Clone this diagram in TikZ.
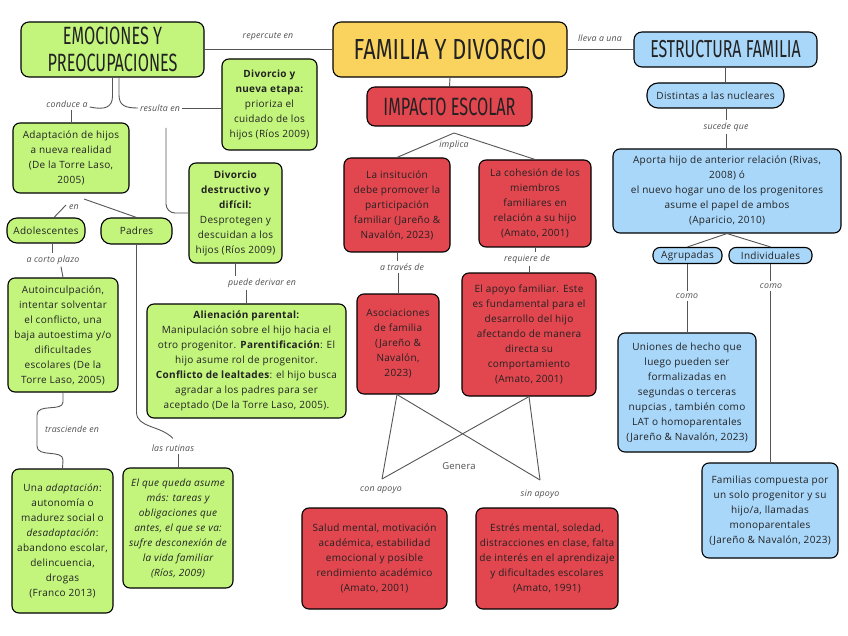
\documentclass[tikz,border=0pt]{standalone}
\usepackage{fontspec}
\setmainfont{Open Sans}
\newfontfamily\bodyfont[LetterSpace=3]{Open Sans}
\newfontfamily\lblfont[LetterSpace=2]{Open Sans}
\newfontfamily\titlefont[FakeStretch=0.65]{Fira Sans}
\newfontfamily\titlefontw[FakeStretch=0.75]{Fira Sans}
\usetikzlibrary{calc}
\definecolor{gfill}{HTML}{C3F57D}
\definecolor{yfill}{HTML}{FAD35E}
\definecolor{rfill}{HTML}{E2464F}
\definecolor{bfill}{HTML}{A9D7FA}
\definecolor{txt}{HTML}{222222}
\definecolor{lblc}{HTML}{505050}
\definecolor{linec}{HTML}{555555}
\begin{document}
\begin{tikzpicture}[x=1pt,y=-1pt,
  box/.style={draw=black, line width=1.1pt, rounded corners=7pt, align=center, inner sep=0pt, text=txt, font=\bodyfont\fontsize{10}{15}\selectfont},
  gbox/.style={box, fill=gfill},
  rbox/.style={box, fill=rfill},
  bbox/.style={box, fill=bfill},
  ttl/.style={draw=black, line width=1.1pt, rounded corners=8pt, align=center, inner sep=0pt, text=txt},
  lbl/.style={font=\lblfont\fontsize{8.8}{10}\selectfont\itshape, text=lblc, inner sep=2pt},
  conn/.style={draw=linec, line width=0.9pt}
]
\useasboundingbox (0,0) rectangle (848,636);
\fill[white] (0,0) rectangle (848,636);

% ---------- titles ----------
\node[ttl, fill=gfill, minimum width=183pt, minimum height=55pt, font=\titlefont\fontsize{25}{27}\selectfont] (emo) at (112.5,49.5) {EMOCIONES Y\\PREOCUPACIONES};
\node[ttl, fill=yfill, minimum width=234pt, minimum height=55pt, font=\titlefontw\fontsize{29}{30}\selectfont] (fam) at (450,49.5) {FAMILIA Y DIVORCIO};
\node[ttl, fill=rfill, minimum width=165pt, minimum height=39pt, font=\titlefont\fontsize{25}{27}\selectfont] (imp) at (449.5,106.5) {IMPACTO ESCOLAR};
\node[ttl, fill=bfill, minimum width=183pt, minimum height=35pt, font=\titlefont\fontsize{24.5}{26}\selectfont] (est) at (725.5,49.5) {ESTRUCTURA FAMILIA};

% ---------- blue branch ----------
\node[bbox, rounded corners=11pt, minimum width=137pt, minimum height=25pt] (dist) at (715.5,95.5) {Distintas a las nucleares};
\node[bbox, minimum width=228pt, minimum height=84pt] (aporta) at (727,191) {Aporta hijo de anterior relación (Rivas,\\2008) ó\\el nuevo hogar uno de los progenitores\\asume el papel de ambos\\(Aparicio, 2010)};
\node[bbox, rounded corners=7pt, minimum width=69pt, minimum height=16pt] (agr) at (687.5,255.5) {Agrupadas};
\node[bbox, rounded corners=7pt, minimum width=83pt, minimum height=16pt] (ind) at (770.5,255.5) {Individuales};
\node[bbox, minimum width=138pt, minimum height=119pt] (union) at (687,392.5) {Uniones de hecho que\\luego pueden ser\\formalizadas en\\segundas o terceras\\nupcias , también como\\LAT o homoparentales\\(Jareño \& Navalón, 2023)};
\node[bbox, minimum width=136pt, minimum height=95pt] (fams) at (770,510.5) {Familias compuesta por\\un solo progenitor y su\\hijo/a, llamadas\\monoparentales\\(Jareño \& Navalón, 2023)};

% ---------- red branch ----------
\node[rbox, minimum width=106pt, minimum height=94pt] (ins) at (397,205) {La insitución\\debe promover la\\participación\\familiar (Jareño \&\\Navalón, 2023)};
\node[rbox, minimum width=112pt, minimum height=87pt] (coh) at (535,203.5) {La cohesión de los\\miembros\\familiares en\\relación a su hijo\\(Amato, 2001)};
\node[rbox, minimum width=82pt, minimum height=100pt] (aso) at (398,344) {Asociaciones\\de familia\\(Jareño \&\\Navalón,\\2023)};
\node[rbox, minimum width=134pt, minimum height=123pt] (apoyo) at (529,334.5) {El apoyo familiar. Este\\es fundamental para el\\desarrollo del hijo\\afectando de manera\\directa su\\comportamiento\\(Amato, 2001)};
\node[rbox, minimum width=145pt, minimum height=101pt] (salud) at (374.5,558.5) {Salud mental, motivación\\académica, estabilidad\\emocional y posible\\rendimiento académico\\(Amato, 2001)};
\node[rbox, minimum width=142pt, minimum height=101pt] (estres) at (547,558.5) {Estrés mental, soledad,\\distracciones en clase, falta\\de interés en el aprendizaje\\y dificultades escolares\\(Amato, 1991)};

% ---------- green branch ----------
\node[gbox, minimum width=95pt, minimum height=91pt] (divn) at (269.5,104.5) {\textbf{Divorcio y}\\\textbf{nueva etapa:}\\prioriza el\\cuidado de los\\hijos (Ríos 2009)};
\node[gbox, minimum width=116pt, minimum height=70pt] (adap) at (71,158) {Adaptación de hijos\\a nueva realidad\\(De la Torre Laso,\\2005)};
\node[gbox, rounded corners=10pt, minimum width=78pt, minimum height=25pt] (adol) at (46,230.5) {Adolescentes};
\node[gbox, rounded corners=10pt, minimum width=71pt, minimum height=26pt] (padres) at (136.5,231) {Padres};
\node[gbox, minimum width=93pt, minimum height=100pt] (divd) at (235.5,213) {\textbf{Divorcio}\\\textbf{destructivo y}\\\textbf{difícil:}\\Desprotegen y\\descuidan a los\\hijos (Ríos 2009)};
\node[gbox, minimum width=199pt, minimum height=114pt] (alien) at (246.5,361) {\textbf{Alienación parental:}\\Manipulación sobre el hijo hacia el\\otro progenitor. \textbf{Parentificación}: El\\hijo asume rol de progenitor.\\\textbf{Conflicto de lealtades}: el hijo busca\\agradar a los padres para ser\\aceptado (De la Torre Laso, 2005).};
\node[gbox, minimum width=110pt, minimum height=114pt] (auto) at (63,335) {Autoinculpación,\\intentar solventar\\el conflicto, una\\baja autoestima y/o\\dificultades\\escolares (De la\\Torre Laso, 2005)};
\node[gbox, minimum width=101pt, minimum height=144pt] (unaad) at (62.5,541) {Una \textit{adaptación}:\\autonomía o\\madurez social o\\\textit{desadaptación}:\\abandono escolar,\\delincuencia,\\drogas\\(Franco 2013)};
\node[gbox, minimum width=110pt, minimum height=120pt] (elque) at (178,528) {\itshape El que queda asume\\\itshape más: tareas y\\\itshape obligaciones que\\\itshape antes, el que se va:\\\itshape sufre desconexión de\\\itshape la vida familiar\\\itshape (Ríos, 2009)};

% ---------- labels ----------
\node[lbl] (rep) at (268,37) {repercute en};
\node[lbl] (lleva) at (600,38) {lleva a una};
\node[lbl] (sucede) at (726,127) {sucede que};
\node[lbl] (como1) at (687,296) {como};
\node[lbl] (como2) at (771,286) {como};
\node[lbl] (impl) at (454,145) {implica};
\node[lbl] (trav) at (402,267) {a través de};
\node[lbl] (req) at (527,259) {requiere de};
\node[font=\lblfont\fontsize{9.5}{11}\selectfont, text=lblc, inner sep=2pt] (genera) at (459,466) {Genera};
\node[lbl] (con) at (381,490) {con apoyo};
\node[lbl] (sin) at (540,494) {sin apoyo};
\node[lbl] (conduce) at (67,104) {conduce a};
\node[lbl] (resulta) at (160,108) {resulta en};
\node[lbl] (en) at (74,207) {en};
\node[lbl] (corto) at (53,260) {a corto plazo};
\node[lbl] (trasc) at (72,429) {trasciende en};
\node[lbl] (rutinas) at (173,448) {las rutinas};
\node[lbl] (puede) at (262,283) {puede derivar en};

\coordinate (apex) at (454,133);
\coordinate (cA) at (382,479);
\coordinate (cB) at (540,480);

% ---------- connectors ----------
\draw[conn] (emo.east) -- (fam.west);
\draw[conn] (fam.east) -- (est.west);
\draw[conn] (fam.south) -- (imp.north);
\draw[conn] (est.south) -- (est.south |- dist.north);
\draw[conn] (sucede.north |- dist.south) -- (sucede.north);
\draw[conn] (sucede.south) -- (sucede.south |- aporta.north);
\draw[conn] (aporta.south) -- (agr.north);
\draw[conn] (aporta.south) -- (ind.north);
\draw[conn] (agr.south) -- (agr.south |- como1.north);
\draw[conn] (union.north |- como1.south) -- (union.north);
\draw[conn] (ind.south) -- (ind.south |- como2.north);
\draw[conn] (fams.north |- como2.south) -- (fams.north);

\draw[conn] (ins.north) -- (apex) -- (coh.north);
\draw[conn] (ins.south) -- (ins.south |- trav.north);
\draw[conn] (aso.north |- trav.south) -- (aso.north);
\draw[conn] (coh.south) -- (coh.south |- req.north);
\draw[conn] (apoyo.north |- req.south) -- (apoyo.north);
\draw[conn] ([xshift=-1pt]aso.south) -- (cA);
\draw[conn] ([xshift=-1pt]aso.south) -- (cB);
\draw[conn] (apoyo.south) -- (cA);
\draw[conn] (apoyo.south) -- (cB);

\draw[conn] (emo.south) -- (112.5,96) .. controls (112.5,108) and (104,110) .. ([yshift=-3pt]conduce.east);
\draw[conn] (adap.north |- conduce.south) -- (adap.north);
\draw[conn] ([xshift=6.5pt]emo.south) -- (119,95) .. controls (119,106) and (126,108) .. (resulta.west);
\draw[conn] (resulta.east) -- (resulta.east -| divn.west);
\draw[conn, rounded corners=9pt] ([xshift=6pt,yshift=-20pt]resulta.center) |- (divd.west);
\draw[conn] ([xshift=-8pt,yshift=2pt]en.center) -- ([xshift=8pt]adol.north);
\draw[conn] ([xshift=10pt,yshift=8pt]en.center) -- (padres.north);
\draw[conn] ([xshift=6pt]adol.south) -- ([xshift=-1pt]corto.north);
\draw[conn] ([xshift=8pt]corto.south) -- (auto.north);
\draw[conn] (auto.south) -- (63,402) .. controls (63,412) and (37,403) .. (37,415) -- (37,446) .. controls (37,458) and (63,449) .. (63,460) -- (unaad.north);
\draw[conn] (padres.south) -- (136.5,412) .. controls (136.5,428) and (160,425) .. ([yshift=4pt]rutinas.north);
\draw[conn] (elque.north |- rutinas.south) -- (elque.north);
\draw[conn] (divd.south) -- (divd.south |- puede.north);
\draw[conn] (alien.north |- puede.south) -- (alien.north);
\end{tikzpicture}
\end{document}
